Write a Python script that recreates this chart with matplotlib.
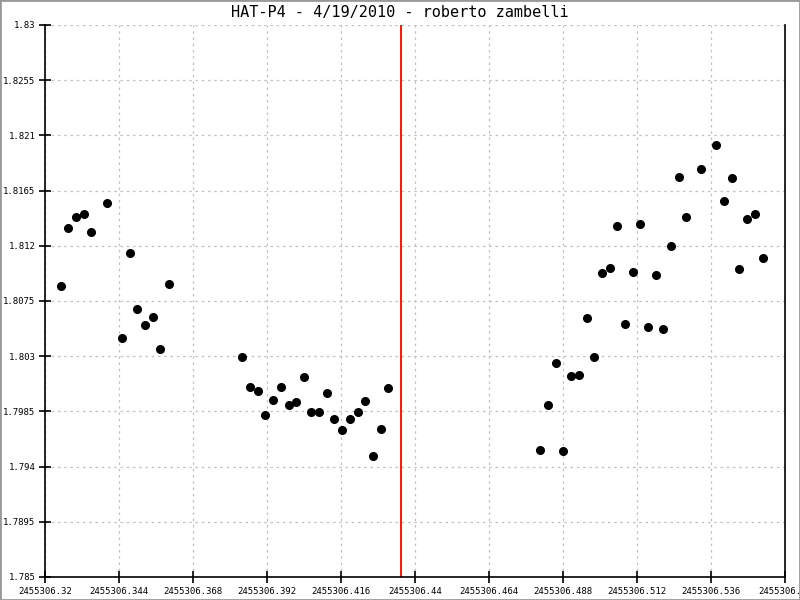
import numpy as np
import matplotlib
matplotlib.use('Agg')
import matplotlib.pyplot as plt
from matplotlib.ticker import FuncFormatter
from matplotlib.patches import Rectangle

# HAT-P4 light curve, JD offset 2455306
jd0 = 2455306.0
t = np.array([
    0.3252, 0.3276, 0.3302, 0.3327, 0.3350, 0.3402, 0.3451, 0.3477, 0.3499,
    0.3525, 0.3551, 0.3574, 0.3601,
    0.3840, 0.3866, 0.3892, 0.3914, 0.3940, 0.3966, 0.3990, 0.4015, 0.4040,
    0.4064, 0.4090, 0.4116, 0.4138, 0.4164, 0.4190, 0.4216, 0.4239, 0.4265,
    0.4291, 0.4313,
    0.4806, 0.4832, 0.4858, 0.4881, 0.4907, 0.4933, 0.4959, 0.4982, 0.5007,
    0.5033, 0.5056, 0.5082, 0.5108, 0.5131, 0.5157, 0.5183, 0.5205, 0.5231,
    0.5257, 0.5280, 0.5329, 0.5377, 0.5403, 0.5429, 0.5452, 0.5478, 0.5504,
    0.5530,
])
mag = np.array([
    1.80870, 1.81343, 1.81432, 1.81457, 1.81310, 1.81546, 1.80446, 1.81139,
    1.80682, 1.80552, 1.80617, 1.80356, 1.80886,
    1.80291, 1.80047, 1.80014, 1.79818, 1.79941, 1.80047, 1.79900, 1.79924,
    1.80128, 1.79843, 1.79843, 1.80000, 1.79786, 1.79696, 1.79786, 1.79843,
    1.79932, 1.79484, 1.79704, 1.80038,
    1.79533, 1.79900, 1.80242, 1.79525, 1.80136, 1.80144, 1.80609, 1.80291,
    1.80976, 1.81017, 1.81359, 1.80560, 1.80984, 1.81375, 1.80536, 1.80960,
    1.80519, 1.81196, 1.81758, 1.81432, 1.81824, 1.82019, 1.81563, 1.81750,
    1.81008, 1.81416, 1.81457, 1.81098,
])
t_mid = 0.4353

xmin, xmax = 2455306.32, 2455306.56
ymin, ymax = 1.785, 1.83

plt.rcParams['font.family'] = ['DejaVu Sans Mono']

fig = plt.figure(figsize=(8, 6), dpi=100)
ax = fig.add_axes([45/800, 23/600, 740/800, 552/600])

ax.plot(jd0 + t, mag, 'o', color='black', ms=5.5, zorder=3)
ax.axvline(jd0 + t_mid, color='red', lw=1.3, zorder=2)

ax.set_xlim(xmin, xmax)
ax.set_ylim(ymin, ymax)
ax.set_xticks(np.linspace(xmin, xmax, 11))
ax.set_yticks(np.linspace(ymin, ymax, 11))
ax.xaxis.set_major_formatter(FuncFormatter(lambda v, p: f'{v:.3f}'.rstrip('0')))
ax.yaxis.set_major_formatter(FuncFormatter(lambda v, p: f'{v:.4f}'.rstrip('0')))
ax.tick_params(labelsize=6.5, direction='inout', length=8, width=1.2, pad=3)
ax.grid(True, color='#c0c0c0', ls=(0, (2, 3)), lw=0.9)
ax.set_axisbelow(True)

ax.spines['top'].set_visible(False)
for s in ['left', 'bottom', 'right']:
    ax.spines[s].set_linewidth(1.2)

fig.text(0.5, 1 - 12/600, 'HAT-P4 - 4/19/2010 - roberto zambelli',
         ha='center', va='center', fontsize=11)
fig.patches.append(Rectangle((0, 0), 1, 1, transform=fig.transFigure,
                             fill=False, edgecolor='#999999', lw=2))

fig.savefig('out.png', dpi=100)
